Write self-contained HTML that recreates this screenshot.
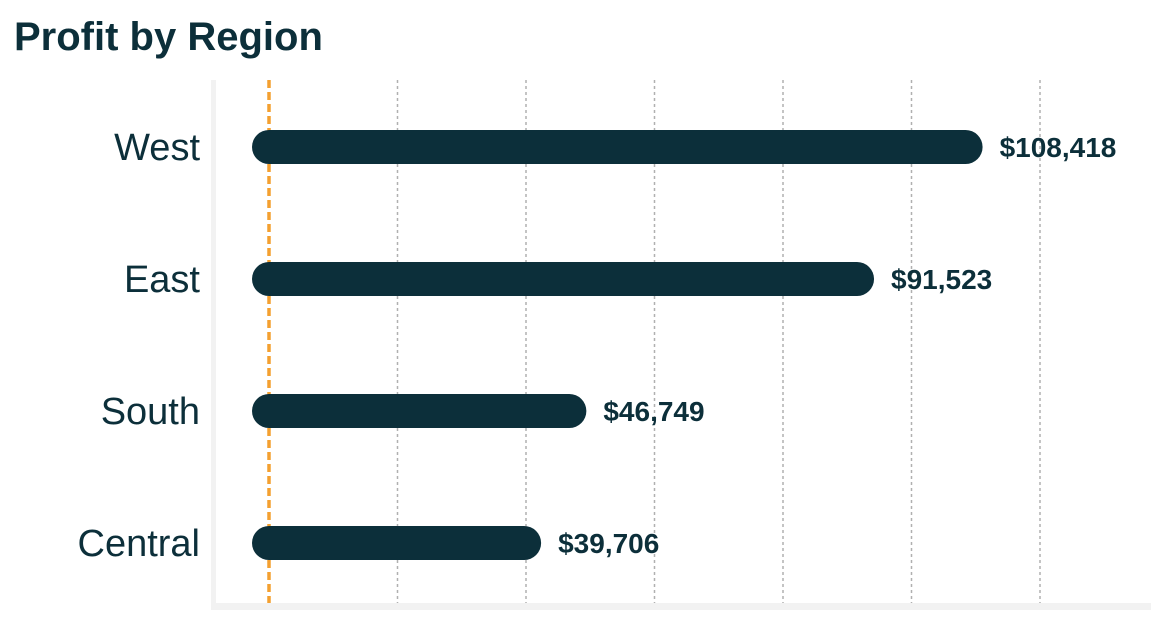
<!DOCTYPE html>
<html><head><meta charset="utf-8"><style>
body{margin:0;background:#fff;font-family:"Liberation Sans",sans-serif;}
</style></head><body>
<svg width="1163" height="626" viewBox="0 0 1163 626">
<text x="14" y="50" font-size="40" font-weight="bold" fill="#0c2f3a">Profit by Region</text>
<rect x="211" y="80" width="5" height="530" fill="#f2f2f2"/>
<rect x="211" y="603" width="940" height="7" fill="#f2f2f2"/>
<g id="grid"></g><g id="bars"></g>
</svg>
<script>
const regions=["West","East","South","Central"];
const profits=[108418,91523,46749,39706];
const labels=["$108,418","$91,523","$46,749","$39,706"];
const gridTicks=[20000,40000,60000,80000,100000,120000];
const ns="http://www.w3.org/2000/svg";
const x0=269, pxPer=128.5/20000;
const xs=v=>x0+v*pxPer;
const ys=i=>147+i*132;
const grid=document.getElementById('grid'), bars=document.getElementById('bars');
function mk(t,a){const e=document.createElementNS(ns,t);for(const k in a)e.setAttribute(k,a[k]);return e;}
gridTicks.forEach(t=>{
 const l=mk('line',{x1:xs(t),x2:xs(t),y1:80,y2:603,stroke:'#b0b0b0','stroke-width':1.5,'stroke-dasharray':'3 3'});
 
 
 grid.appendChild(l);
});
regions.forEach((r,i)=>{
 const y=ys(i);
 const b=mk('line',{x1:xs(0),x2:xs(profits[i]),y1:y,y2:y,stroke:'#0c2f3a','stroke-width':34,'stroke-linecap':'round'});
 
 
 bars.appendChild(b);
 const c=mk('text',{x:200,y:y+13,'text-anchor':'end','font-size':38,fill:'#0c2f3a'});
 c.textContent=r;
 
 
 bars.appendChild(c);
 const v=mk('text',{x:xs(profits[i])+34,y:y+10,'font-size':28,'font-weight':'bold',fill:'#0c2f3a'});
 v.textContent=labels[i];
 
 
 bars.appendChild(v);
});
const z=mk('line',{x1:x0,x2:x0,y1:80,y2:603,stroke:'#f4a030','stroke-width':3.5,'stroke-dasharray':'8 4'});


bars.insertBefore(z,bars.firstChild);
</script>
</body></html>
